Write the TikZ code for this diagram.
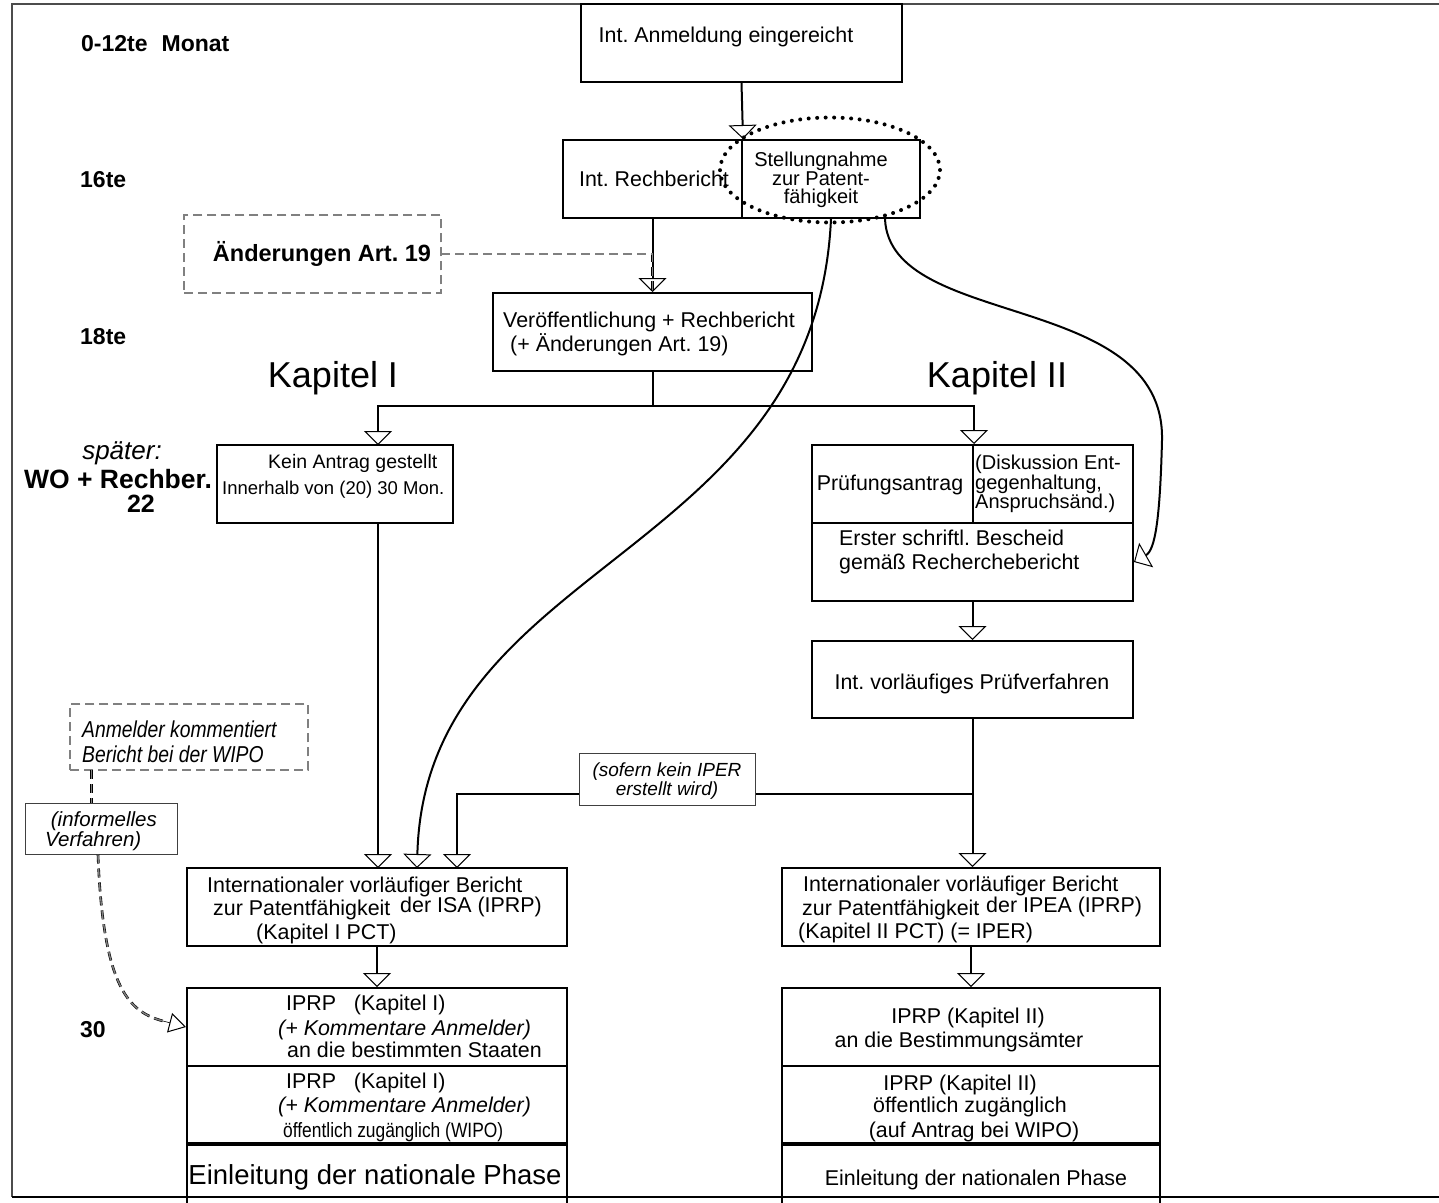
\documentclass[tikz,border=0pt]{standalone}
\usepackage{fontspec}
\setmainfont{Liberation Sans}
\newfontfamily\narrowfont{Liberation Sans}[FakeStretch=0.84]
\usetikzlibrary{arrows.meta, shapes.geometric}

\newcommand{\boxfont}{\fontsize{21.4}{24}\selectfont}
\newcommand{\tightfont}{\fontsize{20}{17.5}\selectfont}
\newcommand{\monthfont}{\fontsize{23}{26}\selectfont\bfseries}
\frenchspacing

\begin{document}
\begin{tikzpicture}[x=1pt, y=-1pt,
  box/.style={draw, line width=2pt, rectangle, inner sep=0pt},
  thinbox/.style={draw=black!75, line width=1pt, rectangle, inner sep=0pt},
  dashbox/.style={draw, rectangle, inner sep=0pt, line width=0.6pt,
    double=black!50, double distance=1.4pt, dash pattern=on 9pt off 5pt},
  dashlink/.style={line width=0.6pt, double=black!50, double distance=1.4pt,
    dash pattern=on 9pt off 5pt},
  txt/.style={font=\boxfont, inner sep=0pt},
  flow/.style={line width=2pt, -{Triangle[open, width=28pt, length=14pt, line width=1pt]}},
  smalltip/.style={line width=0.6pt, -{Triangle[open, width=20pt, length=17pt, line width=1pt]}}]
  \useasboundingbox (0,0) rectangle (1439,1202);
  \clip (0,0) rectangle (1439,1202);

  % Page frame
  \draw[black!70, line width=1.5pt] (1439,4) -- (12,4) -- (12,1197);
  \draw[line width=1.5pt] (12,1197) -- (1439,1197);

  % Month labels
  \node[font=\monthfont, anchor=west, inner sep=0pt] (m0) at (81,44) {0-12te\hspace{14pt}Monat};
  \node[font=\monthfont, anchor=west, inner sep=0pt] (m16) at (80,180) {16te};
  \node[font=\monthfont, anchor=west, inner sep=0pt] (m18) at (80,337) {18te};
  \node[font=\fontsize{26}{28}\selectfont\itshape, inner sep=0pt] (later) at (122,453) {später:};
  \node[font=\fontsize{26.5}{28}\selectfont\bfseries, inner sep=0pt] (wo) at (118,479) {WO + Rechber.};
  \node[font=\fontsize{25}{28}\selectfont\bfseries, inner sep=0pt] (m22) at (141,504) {22};
  \node[font=\monthfont, anchor=west, inner sep=0pt] (m30) at (80,1030) {30};

  % Filing and search
  \node[box, minimum width=321pt, minimum height=78pt] (anm) at (741.5,43) {};
  \node[txt] (anmT) at (726,37) {Int. Anmeldung eingereicht};
  \node[box, minimum width=179pt, minimum height=78pt] (rech) at (652.5,179) {};
  \node[box, minimum width=178pt, minimum height=78pt] (stell) at (831,179) {};
  \node[txt] (rechT) at (654,179) {Int. Rechbericht};
  \node[font=\tightfont, align=center, inner sep=0pt] (stellT) at (821,180)
    {Stellungnahme\\zur Patent-\\fähigkeit};
  \node[draw, ellipse, line width=4pt, line cap=round, dash pattern=on 0pt off 8.5pt,
    minimum width=220pt, minimum height=105pt] (hl) at (830,170) {};

  % Amendments and publication
  \node[dashbox, minimum width=257pt, minimum height=78pt] (aend) at (312.5,254) {};
  \node[font=\fontsize{23.5}{26}\selectfont\bfseries, inner sep=0pt] (aendT) at (322,254) {Änderungen Art. 19};
  \node[box, minimum width=319pt, minimum height=78pt] (veroef) at (652.5,332) {};
  \node[txt, align=left, anchor=west] (veroefT) at (503,334)
    {Veröffentlichung + Rechbericht\\\hspace{7pt}(+ Änderungen Art. 19)};

  % Chapter headings
  \node[font=\fontsize{36}{40}\selectfont, inner sep=0pt] (kap1) at (333,378) {Kapitel I};
  \node[font=\fontsize{36}{40}\selectfont, inner sep=0pt] (kap2) at (997,378) {Kapitel II};

  % Chapter I
  \node[box, minimum width=236pt, minimum height=78pt] (kein) at (335,484) {};
  \node[font=\fontsize{19.5}{22}\selectfont, anchor=west, inner sep=0pt] (keinT1) at (268,463) {Kein Antrag gestellt};
  \node[font=\fontsize{18.5}{22}\selectfont, anchor=west, inner sep=0pt] (keinT2) at (222,490) {Innerhalb von (20) 30 Mon.};

  % Chapter II
  \node[box, minimum width=161pt, minimum height=78pt] (pant) at (892.5,484) {};
  \node[box, minimum width=160pt, minimum height=78pt] (disk) at (1053,484) {};
  \node[box, minimum width=321pt, minimum height=78pt] (erst) at (972.5,562) {};
  \node[txt] (pantT) at (890,485) {Prüfungsantrag};
  \node[font=\tightfont, align=left, anchor=west, inner sep=0pt] (diskT) at (975,484)
    {(Diskussion Ent-\\gegenhaltung,\\Anspruchsänd.)};
  \node[txt, align=left, anchor=west] (erstT) at (839,552)
    {Erster schriftl. Bescheid\\gemäß Recherchebericht};
  \node[box, minimum width=321pt, minimum height=77pt] (ivp) at (972.5,679.5) {};
  \node[txt] (ivpT) at (972,684) {Int. vorläufiges Prüfverfahren};
  \node[thinbox, minimum width=176pt, minimum height=52pt] (sofern) at (667,779) {};
  \node[font=\fontsize{19}{19}\selectfont\itshape, align=center, inner sep=0pt] (sofernT)
    at (667,781) {(sofern kein IPER\\erstellt wird)};

  % Reports
  \node[box, minimum width=380pt, minimum height=78pt] (isa) at (377,907) {};
  \node[txt, anchor=west] (isaT1) at (207,887) {Internationaler vorläufiger Bericht};
  \node[txt, anchor=west] (isaT2) at (213,910) {zur Patentfähigkeit};
  \node[txt, anchor=west] (isaT3) at (400,907) {der ISA (IPRP)};
  \node[txt, anchor=west] (isaT4) at (256,934) {(Kapitel I PCT)};
  \node[box, minimum width=378pt, minimum height=78pt] (ipea) at (971,907) {};
  \node[txt, anchor=west] (ipeaT1) at (803,886) {Internationaler vorläufiger Bericht};
  \node[txt, anchor=west] (ipeaT2) at (802,910) {zur Patentfähigkeit};
  \node[txt, anchor=west] (ipeaT3) at (986,907) {der IPEA (IPRP)};
  \node[txt, anchor=west] (ipeaT4) at (798,933) {(Kapitel II PCT) (= IPER)};

  % Left column, month 30
  \node[box, minimum width=380pt, minimum height=78pt] (lb1) at (377,1027) {};
  \node[box, minimum width=380pt, minimum height=77pt] (lb2) at (377,1104.5) {};
  \node[box, minimum width=380pt, minimum height=90pt] (lb3) at (377,1188) {};
  \draw[line width=3.5pt] (lb2.south west) -- (lb2.south east);
  \node[txt, anchor=west] (lb1T1) at (286,1005) {IPRP\ \ \ (Kapitel I)};
  \node[txt, anchor=west, font=\boxfont\itshape] (lb1T2) at (278,1030) {(+ Kommentare Anmelder)};
  \node[txt, anchor=west] (lb1T3) at (287,1050) {an die bestimmten Staaten};
  \node[txt, anchor=west] (lb2T1) at (286,1083) {IPRP\ \ \ (Kapitel I)};
  \node[txt, anchor=west, font=\boxfont\itshape] (lb2T2) at (278,1107) {(+ Kommentare Anmelder)};
  \node[anchor=west, inner sep=0pt, font=\narrowfont\fontsize{20.7}{22}\selectfont] (lb2T3)
    at (283,1132) {öffentlich zugänglich (WIPO)};
  \node[font=\fontsize{27.5}{30}\selectfont, inner sep=0pt] (lb3T) at (375,1177)
    {Einleitung der nationale Phase};

  % Right column, month 30
  \node[box, minimum width=378pt, minimum height=78pt] (rb1) at (971,1027) {};
  \node[box, minimum width=378pt, minimum height=77pt] (rb2) at (971,1104.5) {};
  \node[box, minimum width=378pt, minimum height=90pt] (rb3) at (971,1188) {};
  \draw[line width=3.5pt] (rb2.south west) -- (rb2.south east);
  \node[txt] (rb1T1) at (968,1018) {IPRP (Kapitel II)};
  \node[txt] (rb1T2) at (959,1042) {an die Bestimmungsämter};
  \node[txt] (rb2T1) at (960,1085) {IPRP (Kapitel II)};
  \node[txt] (rb2T2) at (970,1107) {öffentlich zugänglich};
  \node[txt] (rb2T3) at (974,1132) {(auf Antrag bei WIPO)};
  \node[txt] (rb3T) at (976,1180) {Einleitung der nationalen Phase};

  % Applicant comments
  \node[dashbox, minimum width=238pt, minimum height=66pt] (anmk) at (189,737) {};
  \node[anchor=west, align=left, inner sep=0pt, font=\narrowfont\itshape\fontsize{23}{25}\selectfont]
    (anmkT) at (82,742) {Anmelder kommentiert\\Bericht bei der WIPO};
  \node[thinbox, minimum width=152pt, minimum height=51pt] (inf) at (101,828.5) {};
  \node[font=\fontsize{20.5}{18}\selectfont\itshape, align=left, anchor=west, inner sep=0pt]
    (infT) at (45,831) {\ (informelles\\Verfahren)};

  % Connectors
  \coordinate (split) at (652.5,406);
  \coordinate (kin) at (378,445);
  \coordinate (isa1) at (378,868);
  \coordinate (isa2) at (417,868);
  \coordinate (isa3) at (457,868);
  \coordinate (br) at (972.5,794);
  \coordinate (tipbase) at (163,1021);

  \draw[flow] (anm.south) -- (rech.north east);
  \draw[flow] (rech.south) -- (veroef.north);
  \draw[dashlink] (aend.east) -| (veroef.north);
  \draw[line width=2pt] (veroef.south) -- (split);
  \draw[flow] (split) -| (kin);
  \draw[flow] (split) -| (pant.north east);
  \draw[flow] (kein.south -| kin) -- (isa1);
  \draw[flow] (stell.south) .. controls (815,560) and (425,560) .. (isa2);
  \draw[flow] ([xshift=-36pt]stell.south east) .. controls (890,330) and (1165,290) .. (1162,440)
    .. controls (1160,520) and (1155,550) .. (erst.east);
  \draw[flow] (erst.south) -- (ivp.north);
  \draw[flow] (ivp.south) -- (ivp.south |- ipea.north);
  \draw[line width=2pt] (br) -- (br -| sofern.east);
  \draw[flow] (br -| sofern.west) -| (isa3);
  \draw[flow] (isa.south) -- (lb1.north);
  \draw[flow] (ipea.south) -- (rb1.north);
  \draw[dashlink] ([xshift=22pt]anmk.south west) -- ([xshift=22pt]anmk.south west |- inf.north);
  \draw[dashlink] ([xshift=-3pt]inf.south) .. controls (103,990) and (130,1012) .. (tipbase);
  \draw[smalltip] (tipbase) -- (lb1.west);
\end{tikzpicture}
\end{document}
